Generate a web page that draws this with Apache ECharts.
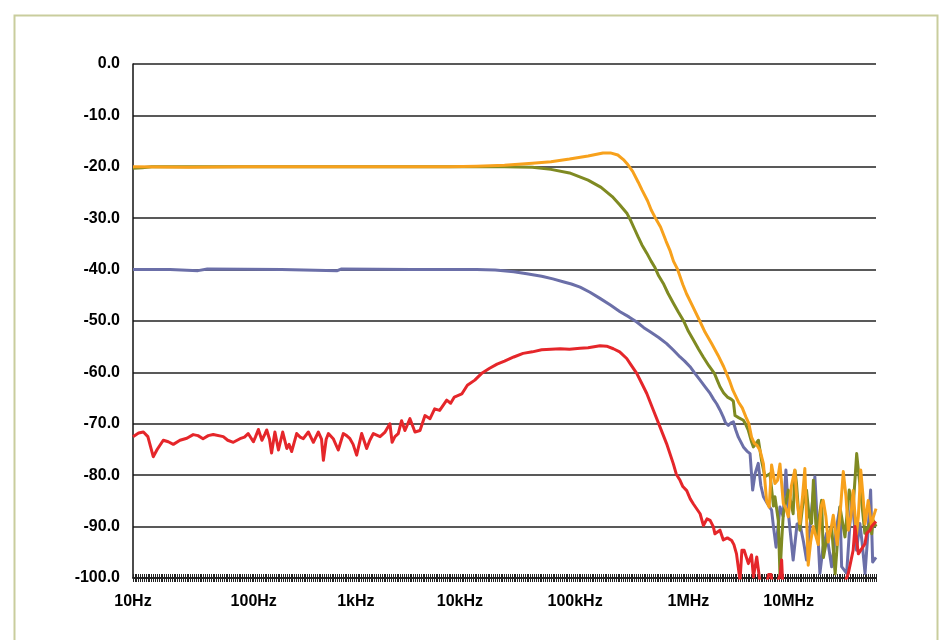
<!DOCTYPE html>
<html>
<head>
<meta charset="utf-8">
<script src="https://cdn.jsdelivr.net/npm/echarts@6/dist/echarts.min.js"></script>
<style>
html,body{margin:0;padding:0;background:#fff;}
#chart{width:941px;height:640px;}
</style>
</head>
<body>
<div id="chart"></div>
<script>
// x positions are sample indices along the sweep (0..400), tick labels at given indices
const sampleCount = 401;
const tickLabels = ['10Hz','100Hz','1kHz','10kHz','100kHz','1MHz','10MHz'];
const tickIndex = [0, 65, 120, 176, 238, 299, 353];
const yTicks = [-100, 0, 10];

const orange = [[0,-20],[30,-20.1],[60,-20],[100,-20],[140,-20],[170,-20],[185,-19.9],[200,-19.7],[215,-19.3],[225,-19],[235,-18.5],[245,-17.9],[253,-17.3],[257,-17.3],[261,-17.7],[264,-18.6],[266,-19.4],[269,-20.9],[272,-23],[274,-24.5],[277,-26.6],[279,-28.4],[281,-29.8],[284,-31.7],[287,-34.5],[289,-36.2],[291,-38.4],[293,-39.8],[296,-42.9],[298,-44.7],[301,-46.9],[305,-49.9],[308,-52.2],[311.5,-54.4],[315,-56.7],[318,-58.9],[321,-61.5],[323,-63.5],[326,-65.8],[328,-66.9],[330,-68.7],[331.5,-69.9],[333,-72.6],[334.5,-73.8],[336,-74.2],[337.6,-75.2],[339.4,-77.8],[341.1,-85],[342.5,-86.2],[343.8,-78],[345.6,-81.6],[347,-81],[348.3,-77.8],[350.1,-85.5],[351.5,-86.5],[352.8,-88.1],[354.5,-82],[356.3,-79],[357.3,-84.3],[359,-89.4],[360.5,-84],[361.7,-78.7],[363.5,-97.5],[364.8,-93],[366.2,-90],[368.9,-93.5],[370.5,-86],[371.6,-84.9],[373,-88],[374.3,-93],[376,-90],[377,-87.8],[379.1,-93.5],[381,-86],[382.4,-79.3],[383.8,-84],[385.1,-90.7],[386.5,-88],[387.7,-83],[389.5,-91.5],[390.5,-88],[391.8,-79],[393,-84],[394.1,-89.5],[395.8,-84.9],[397.6,-90],[398.6,-88.1],[400,-86.5]];

const olive = [[0,-20.3],[5,-20.2],[10,-20],[60,-20],[120,-20],[180,-20],[200,-20],[215,-20.1],[225,-20.5],[235,-21.2],[245,-22.6],[252,-24],[258,-25.8],[262,-27.4],[266,-29.1],[268,-30.5],[270,-32.1],[272,-33.7],[274,-35.2],[276.6,-36.8],[279,-38.4],[281,-39.6],[283,-41.2],[285.5,-42.7],[288,-44.6],[291,-46.6],[293.5,-48.2],[296.3,-49.9],[299,-52],[301.7,-53.7],[304.5,-55.5],[307,-57],[310,-58.7],[313,-60.2],[314.5,-61.5],[316,-62.8],[318,-64],[320,-64.8],[322,-65.2],[323.2,-65.6],[324.1,-68.4],[326,-68.8],[328.6,-69.3],[330,-70.2],[331.3,-71.3],[333,-73.5],[334,-74.5],[336.7,-73.2],[338.4,-77.2],[340.2,-80.3],[342.9,-79.7],[344.8,-86],[345.6,-84.2],[347.4,-88.8],[348.3,-99.5],[349.2,-93],[350.1,-87.5],[352.8,-82.9],[355.4,-87.5],[356.4,-79.1],[357.2,-81.6],[359,-90.7],[360.5,-86],[362.6,-82.9],[364,-88],[365.3,-89.4],[366.3,-81],[368,-92],[369.5,-88],[370.7,-84.9],[371.7,-96],[373.4,-92.6],[376.1,-90],[378,-99.2],[380.6,-86.2],[383.3,-92],[385.6,-82.9],[387.7,-86.2],[389.6,-75.8],[390.5,-79],[392.2,-84.9],[394,-91.3],[396.7,-89.4],[397.7,-91.4],[398.5,-88.8],[400,-90]];

const blue = [[0,-40],[20,-40],[35,-40.2],[40,-39.9],[80,-40],[110,-40.2],[112,-39.9],[150,-40],[185,-40],[195,-40.1],[205,-40.4],[212,-40.8],[220,-41.3],[226,-41.8],[232,-42.4],[236,-42.8],[240.7,-43.4],[246,-44.4],[251.4,-45.6],[257,-46.9],[262.2,-48.2],[267,-49.2],[271.2,-50.2],[275,-51.3],[278.4,-52.1],[283,-53.2],[287.3,-54.4],[291,-55.7],[294.5,-57],[297,-57.8],[299.9,-58.9],[302.5,-60.2],[305.3,-61.5],[308,-62.8],[310.7,-64.1],[312.5,-65.2],[314.2,-66.1],[316,-67.3],[317.8,-68.7],[319,-69.8],[320.5,-70.3],[322,-69.8],[323.2,-69.6],[324.5,-71.2],[325.9,-72.6],[328.6,-74.5],[330.5,-75.3],[332.2,-75.8],[333.6,-82.9],[334.9,-79.7],[336.6,-77.7],[338,-82],[339.4,-84.2],[341.5,-85.5],[343.8,-86.8],[344.8,-90],[346.2,-94],[348.3,-86.2],[350,-88],[351.5,-79],[353,-88],[355.4,-96.5],[357.5,-89.5],[359,-89.4],[361,-93],[362.6,-96.5],[365,-88],[367.1,-80.3],[368.5,-90],[369.8,-99.1],[371.5,-94],[373.4,-91.3],[376.1,-97.8],[378.8,-90],[380.6,-86.2],[381.5,-97.8],[384.2,-99.1],[385.5,-92],[386.9,-84.2],[388.5,-90],[389.5,-94.6],[391.3,-89.4],[392.5,-93],[394.1,-99.1],[395.5,-92],[397.1,-82.9],[398.2,-96.9],[400,-96]];

const red = [[0,-72.5],[3,-71.8],[5.6,-71.6],[8,-72.5],[10.9,-76.4],[13,-75],[16.3,-73.2],[19,-73.5],[21.7,-74],[25.3,-73.2],[29,-72.8],[32.4,-72.1],[35,-72.3],[37.7,-72.9],[40.5,-72.3],[43.2,-72.1],[48.6,-72.5],[51,-73.2],[54,-73.6],[57.6,-72.9],[60,-72.6],[62,-71.9],[64.8,-73.5],[66,-72.5],[67.5,-71.1],[69.4,-73.2],[71,-72],[72,-71.2],[73.5,-73],[74.6,-75.7],[76.4,-71.6],[78.3,-75.1],[80.6,-71.6],[82.8,-74.8],[84,-74],[85.4,-75.4],[88.1,-71.9],[90,-72.6],[91.7,-72.9],[94.4,-71.6],[97.1,-73.6],[99.8,-71.6],[101.5,-73],[102.5,-77.1],[104,-73],[105.2,-71.9],[107.8,-72.9],[110.5,-75.1],[113.2,-71.9],[115,-72.3],[116.8,-72.9],[118.5,-74],[120.4,-76.1],[123.1,-71.9],[125.8,-74.8],[127.5,-73.2],[129.4,-71.9],[133,-72.5],[135.7,-71.6],[138.3,-70],[139.5,-73.6],[141,-72.5],[142.8,-71.9],[144.6,-69.4],[146.4,-71.3],[149.1,-69],[151.8,-71.6],[154.5,-71.3],[157.2,-68.4],[159.9,-69],[162.4,-67.1],[165.1,-67.4],[168.9,-65.4],[171,-66],[173,-64.8],[177,-64.2],[180,-62.5],[184,-61.5],[188,-60.1],[192,-59.2],[196,-58.4],[200,-57.8],[205,-57],[210,-56.3],[215,-56],[220,-55.6],[225,-55.5],[230,-55.4],[235,-55.5],[240.7,-55.3],[245,-55.2],[251.4,-54.8],[255,-54.9],[258.6,-55.4],[262,-56],[265.8,-57.3],[268,-58.5],[271.2,-60.2],[274,-62.2],[276.6,-64.1],[280.2,-67.4],[283.7,-70.6],[287.3,-73.9],[290.9,-77.8],[292.5,-79.8],[294.5,-81],[296,-82.2],[298.1,-83],[300,-84.6],[301.7,-85.6],[305.3,-87.5],[307.1,-89.8],[309,-88.5],[310.7,-88.8],[312.4,-90],[313.3,-91.4],[316,-90.7],[317.8,-92.6],[320,-92.2],[322.3,-92.7],[323.5,-93.5],[324.9,-95.3],[326.8,-100.5],[327.8,-94.6],[329,-94.6],[331.3,-97.2],[333,-95.5],[334,-99.8],[335.8,-95.9],[337.6,-101],[340,-103],[342.2,-99.3],[343.5,-99.3],[345,-103],[348.5,-99.2],[349.2,-96.5],[350,-103],[360,-104],[370,-104],[380,-104],[385.1,-99.1],[386,-99.2],[387.7,-94.6],[388.7,-90],[390.5,-95.3],[391.3,-95.3],[394.1,-93.3],[395,-91.3],[396.8,-90.7],[397.6,-90],[400,-89]];

const categories = [];
for (let i = 0; i < sampleCount; i++) {
  const k = tickIndex.indexOf(i);
  categories.push(k >= 0 ? tickLabels[k] : '');
}

const chart = echarts.init(document.getElementById('chart'), null, {renderer: 'canvas'});
const font = {fontFamily: 'Liberation Sans, Arial, sans-serif', fontWeight: 'bold', fontSize: 16, color: '#000'};

function line(data, color) {
  return {
    type: 'line', data: data, xAxisIndex: 2, yAxisIndex: 0,
    showSymbol: false, symbol: 'none', clip: true, animation: false,
    lineStyle: {color: color, width: 3, join: 'round'},
    emphasis: {disabled: true}
  };
}

chart.setOption({
  animation: false,
  backgroundColor: '#fff',
  grid: {left: 133, top: 64, right: 65, bottom: 62, containLabel: false},
  graphic: [{
    type: 'rect', left: 12, top: 13, z: -1,
    shape: {x: 0, y: 0, width: 923, height: 700},
    style: {fill: 'none', stroke: '#c9cd9d', lineWidth: 2}
  }],
  xAxis: [
    {
      type: 'category', data: categories, boundaryGap: false, position: 'bottom',
      axisLine: {show: true, onZero: false, lineStyle: {color: '#111', width: 1.5}},
      axisTick: {show: true, interval: 0, length: 4, inside: false, lineStyle: {color: '#222', width: 1}},
      axisLabel: {show: true, interval: function (i, v) { return v !== ''; }, margin: 16, ...font},
      splitLine: {show: false}
    },
    {
      type: 'category', data: categories, boundaryGap: false, position: 'bottom',
      axisLine: {show: false, onZero: false},
      axisTick: {show: true, interval: 0, length: 4, inside: true, lineStyle: {color: '#222', width: 1}},
      axisLabel: {show: false},
      splitLine: {show: false}
    },
    {
      type: 'value', min: 0, max: sampleCount - 1, show: false,
      splitLine: {show: false}
    }
  ],
  yAxis: [{
    type: 'value', min: yTicks[0], max: yTicks[1], interval: yTicks[2],
    axisLine: {show: true, onZero: false, lineStyle: {color: '#111', width: 1.5}},
    axisTick: {show: false},
    axisLabel: {margin: 13, formatter: function (v) { return v.toFixed(1); }, ...font},
    splitLine: {show: true, lineStyle: {color: '#222', width: 1.5}}
  }],
  series: [
    line(blue, '#6B6FA8'),
    line(olive, '#7F8A22'),
    line(orange, '#F7A11C'),
    line(red, '#E5262A')
  ]
});
</script>
</body>
</html>
